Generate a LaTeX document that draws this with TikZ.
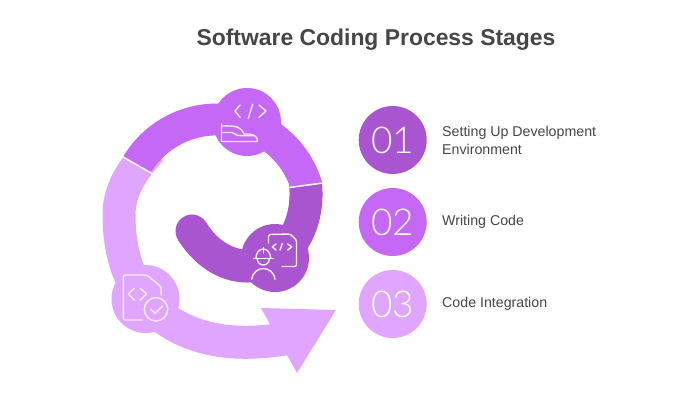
\documentclass[tikz,border=0pt]{standalone}
\usepackage{fontspec}
\setmainfont{Liberation Sans}
\newfontfamily\thinfont{Lato Light}
\usetikzlibrary{calc}
\definecolor{darkp}{RGB}{170,85,208}
\definecolor{midp}{RGB}{197,104,245}
\definecolor{lightp}{RGB}{224,166,255}
\definecolor{txt}{RGB}{70,70,70}
\definecolor{iconw}{RGB}{247,236,255}
\tikzset{
  band/.style={line width=33pt},
  hub/.style={circle,minimum size=68pt,inner sep=0pt},
  badge/.style={circle,minimum size=68pt,inner sep=0pt,text=white,font=\thinfont\fontsize{37}{37}\selectfont},
  label/.style={anchor=west,align=left,text=txt,font=\fontsize{14.2}{18}\selectfont,inner sep=0pt},
  glyph/.style={draw=iconw,line width=1.4pt,line cap=round,line join=round},
  sep/.style={white,line width=1.5pt},
}
\begin{document}
\begin{tikzpicture}[x=1pt,y=-1pt]
\useasboundingbox (0,0) rectangle (700,400);
\fill[white] (0,0) rectangle (700,400);
\coordinate (o) at (217,213);
% dark spiral
\draw[band,darkp] (305.5,184) .. controls (310,228) and (285,266) .. (247,266) .. controls (225,266) and (205,252) .. (192,231);
\fill[darkp] (192,231) circle[radius=16.5];
% light spiral
\draw[band,lightp] (150,150) -- (138,165) .. controls (125,182) and (119,198) .. (119,215) .. controls (119,262) and (135,299) .. (168,321) .. controls (200,342) and (240,347) .. (290,338);
\fill[lightp] (261,308) -- (336,310) -- (297,373) -- cycle;
% middle ring
\fill[midp] ($(o)+(-148.6:109.5)$) arc[start angle=-148.6,end angle=-16,radius=109.5] -- ($(o)+(-19.6:77.6)$) arc[start angle=-19.6,end angle=-148.6,radius=77.6] -- cycle;
% separators
\draw[sep] (122,156.5) -- (153,174);
\draw[sep] (289,187.5) -- (323,183);
% hubs
\node[hub,fill=midp] (hubA) at (247,122) {};
\node[hub,fill=darkp] (hubB) at (275,258) {};
\node[hub,fill=lightp] (hubC) at (145.5,299) {};
% icon A
\draw[glyph] (240,105) -- (235,111) -- (240,117.3);
\draw[glyph] (252.7,104.3) -- (248.3,118.3);
\draw[glyph] (259,105) -- (266,111) -- (259,117.3);
\draw[glyph] (221.5,123.5) -- (221.5,141.5) -- (257.5,141.5) .. controls (258,137) and (254,134.5) .. (249,134) -- (244,134) .. controls (241,127) and (237,125.5) .. (221.5,126);
\draw[glyph] (222,132.5) -- (232,132.5) .. controls (235,132.5) and (235,135.5) .. (238,135.5) -- (254,135.8);
% icon B
\draw[glyph,rounded corners=1.5pt] (268.5,243) -- (268.5,234.5) -- (290,234) -- (296.5,240) -- (296.5,266.5) -- (282,266.5);
\draw[glyph] (276,244) -- (272.3,246.8) -- (276,250);
\draw[glyph] (282.3,243.5) -- (280,250);
\draw[glyph] (287.7,244) -- (291.7,246.8) -- (287.7,250);
\draw[glyph] (253.5,258.3) -- (273.5,258.3);
\draw[glyph] (256,258) arc[start angle=180,end angle=360,x radius=7.3,y radius=9];
\draw[glyph] (263.3,247.5) -- (263.3,253);
\draw[glyph] (257.3,259) arc[start angle=180,end angle=0,radius=6];
\draw[glyph] (251.7,279.3) .. controls (253,272) and (258,268.5) .. (263.3,268.5) .. controls (268.5,268.5) and (274,272) .. (275,279.3);
% icon C
\draw[glyph,rounded corners=1.5pt] (141.7,320) -- (123.3,320) -- (123.3,275) -- (146.7,275) -- (161,286.7) -- (161,295);
\draw[glyph] (134.3,288.3) -- (128.3,294) -- (134.3,300);
\draw[glyph] (140,288.3) -- (146.7,294) -- (140,300);
\draw[glyph] (156,309.3) circle[radius=11.7];
\draw[glyph] (150.7,309.3) -- (155,313.3) -- (162.3,306);
% badges
\node[badge,fill=darkp] (b1) at (392.7,140) {01};
\node[badge,fill=midp] (b2) at (392.7,222) {02};
\node[badge,fill=lightp] (b3) at (392.7,304) {03};
\node[label] (l1) at (442,140) {Setting Up Development\\Environment};
\node[label] (l2) at (442,222) {Writing Code};
\node[label] (l3) at (442,304) {Code Integration};
\node[anchor=center,text=txt,font=\bfseries\fontsize{22.9}{28}\selectfont,inner sep=0pt] (title) at (376,40) {Software Coding Process Stages};
\end{tikzpicture}
\end{document}
